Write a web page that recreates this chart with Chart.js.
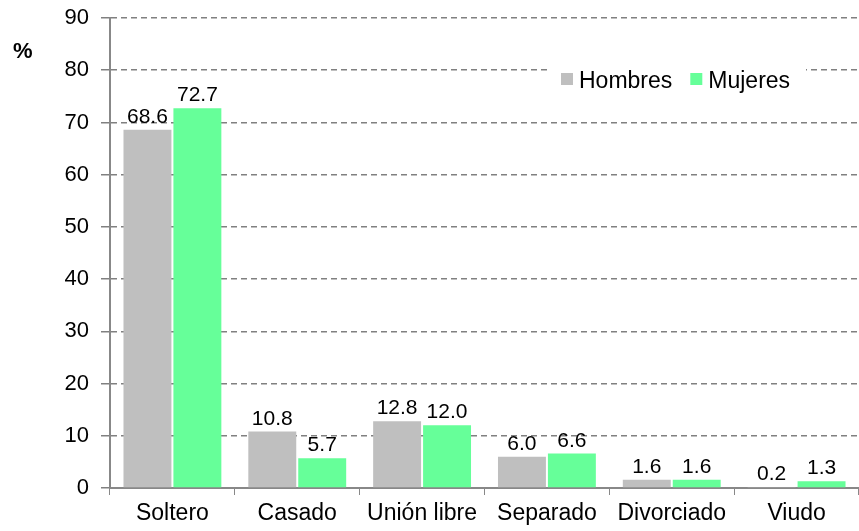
<!DOCTYPE html>
<html>
<head>
<meta charset="utf-8">
<script src="https://cdn.jsdelivr.net/npm/chart.js@4.4.0/dist/chart.umd.min.js"></script>
<style>
  html, body { margin: 0; padding: 0; background: #fff; }
  #wrap { width: 859px; height: 531px; }
</style>
</head>
<body>
<div id="wrap"><canvas id="grafico"></canvas></div>
<script>
var categorias = ['Soltero', 'Casado', 'Unión libre', 'Separado', 'Divorciado', 'Viudo'];
var hombres = [68.6, 10.8, 12.8, 6.0, 1.6, 0.2];
var mujeres = [72.7, 5.7, 12.0, 6.6, 1.6, 1.3];
var yTicks = [0, 10, 20, 30, 40, 50, 60, 70, 80, 90];

var fuente = "'Liberation Sans', Arial, sans-serif";
var gris = '#bfbfbf';
var verde = '#66ff99';

// etiquetas de valor encima de cada barra
var etiquetas = {
    id: 'etiquetas',
    afterDatasetsDraw: function (chart) {
        var ctx = chart.ctx;
        ctx.save();
        ctx.font = '21px ' + fuente;
        ctx.fillStyle = '#000';
        ctx.textAlign = 'center';
        ctx.textBaseline = 'alphabetic';
        chart.data.datasets.forEach(function (ds, i) {
            chart.getDatasetMeta(i).data.forEach(function (bar, j) {
                ctx.fillText(ds.data[j].toFixed(1), bar.x, bar.y - 7);
            });
        });
        ctx.restore();
    }
};

// leyenda dentro del area, con fondo blanco, y el "%" del eje
var extras = {
    id: 'extras',
    afterDraw: function (chart) {
        var ctx = chart.ctx;
        ctx.save();
        ctx.fillStyle = '#fff';
        ctx.fillRect(548, 66, 258, 29);
        ctx.font = '23px ' + fuente;
        ctx.textBaseline = 'alphabetic';
        var x = 561;
        chart.data.datasets.forEach(function (ds) {
            ctx.fillStyle = ds.backgroundColor;
            ctx.fillRect(x, 73, 12, 12);
            ctx.fillStyle = '#000';
            ctx.fillText(ds.label, x + 18, 88);
            x += 18 + ctx.measureText(ds.label).width + 18;
        });
        ctx.font = 'bold 22px ' + fuente;
        ctx.fillText('%', 13, 58);
        ctx.restore();
    }
};

new Chart(document.getElementById('grafico').getContext('2d'), {
    type: 'bar',
    data: {
        labels: categorias,
        datasets: [{
            label: 'Hombres',
            data: hombres,
            backgroundColor: gris
        }, {
            label: 'Mujeres',
            data: mujeres,
            backgroundColor: verde
        }]
    },
    options: {
        responsive: true,
        maintainAspectRatio: false,
        animation: false,
        layout: { padding: { top: 18, right: 0, left: 0, bottom: 0 } },
        datasets: { bar: { categoryPercentage: 0.8, barPercentage: 0.96 } },
        plugins: {
            legend: { display: false },
            tooltip: { enabled: false }
        },
        scales: {
            x: {
                grid: {
                    drawOnChartArea: false,
                    drawTicks: true,
                    tickLength: 7,
                    color: '#888'
                },
                border: { color: '#888', width: 2 },
                ticks: {
                    color: '#000',
                    font: { family: fuente, size: 23 },
                    padding: 5,
                    maxRotation: 0
                },
                afterFit: function (s) {
                    s.height = 43;
                    s.paddingLeft = 0;
                    s.paddingRight = 0;
                }
            },
            y: {
                min: 0,
                max: 90,
                afterBuildTicks: function (s) {
                    s.ticks = yTicks.map(function (v) { return { value: v }; });
                },
                grid: {
                    color: '#808080',
                    lineWidth: 1.5,
                    tickBorderDash: [],
                    tickLength: 9
                },
                border: { color: '#888', width: 2, dash: [6, 4] },
                ticks: {
                    color: '#000',
                    font: { family: fuente, size: 22 },
                    padding: 12
                },
                afterFit: function (s) {
                    s.width = 110;
                    s.paddingTop = 0;
                    s.paddingBottom = 0;
                }
            }
        }
    },
    plugins: [etiquetas, extras]
});
</script>
</body>
</html>
